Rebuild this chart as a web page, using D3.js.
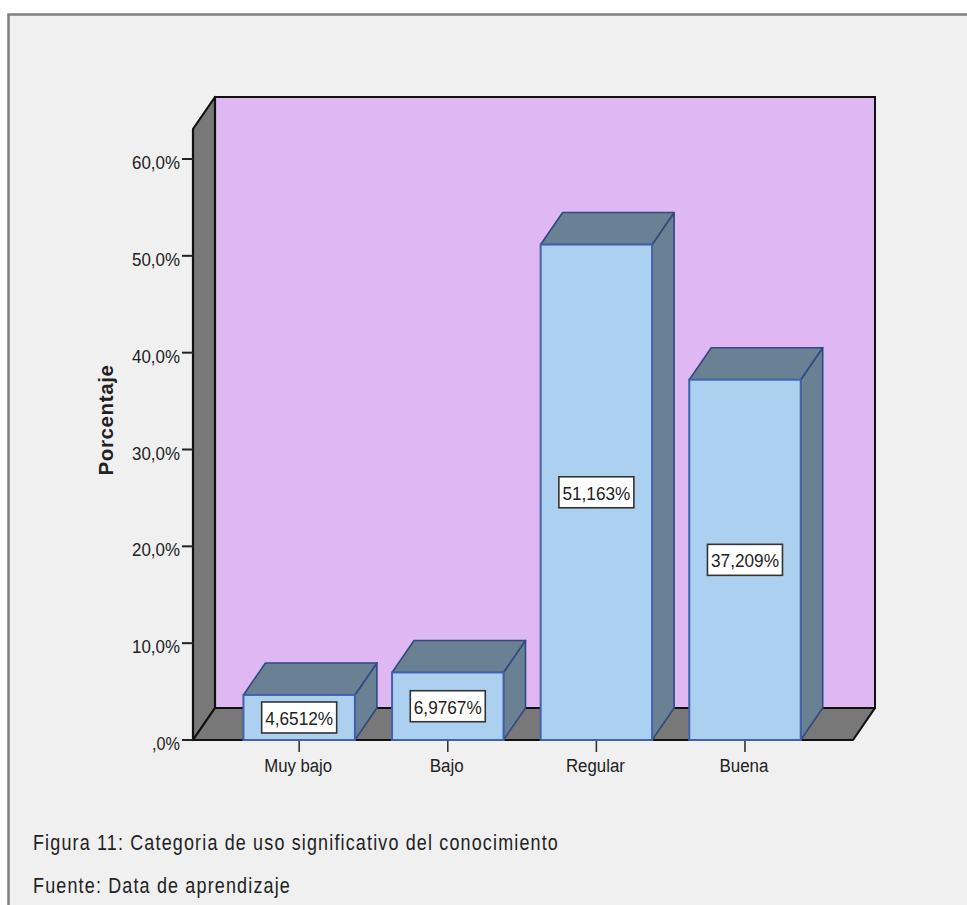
<!DOCTYPE html>
<html>
<head>
<meta charset="utf-8">
<script src="https://cdnjs.cloudflare.com/ajax/libs/d3/7.8.5/d3.min.js"></script>
<style>
html,body{margin:0;padding:0;background:#fff}
svg{display:block}
text{font-family:"Liberation Sans",Arial,sans-serif;fill:#222}
</style>
</head>
<body>
<svg id="chart" width="967" height="905"></svg>
<script>
const categories = ["Muy bajo", "Bajo", "Regular", "Buena"];
const values = [4.6512, 6.9767, 51.163, 37.209];
const valueLabels = ["4,6512%", "6,9767%", "51,163%", "37,209%"];
const tickValues = [0, 10, 20, 30, 40, 50, 60];
const tickLabels = [",0%", "10,0%", "20,0%", "30,0%", "40,0%", "50,0%", "60,0%"];
const yAxisTitle = "Porcentaje";
const captions = ["Figura 11: Categoria de uso significativo del conocimiento", "Fuente: Data de aprendizaje"];

const svg = d3.select("#chart");
const frontLeft = 193, frontRight = 853, baseY = 740, wallTopY = 129;
const depthX = 22, depthY = 32;

const y = d3.scaleLinear().domain([0, 60]).range([baseY, 159]);
const x = d3.scaleBand().domain(categories).range([frontLeft, frontRight])
  .paddingInner(0.25).paddingOuter(0.3457).align(0.491);

const poly = pts => d3.line()(pts) + "Z";

// Chart panel
svg.append("rect").attr("x", 8.5).attr("y", 14.5).attr("width", 975).attr("height", 910)
  .attr("fill", "#f0f0f0").attr("stroke", "#7f7f7f").attr("stroke-width", 2.5);

// Back wall, left wall and floor of the 3D box
const wallStroke = "#111";
svg.append("rect")
  .attr("x", frontLeft + depthX).attr("y", wallTopY - depthY)
  .attr("width", frontRight - frontLeft).attr("height", baseY - wallTopY)
  .attr("fill", "#dfb8f3").attr("stroke", wallStroke).attr("stroke-width", 2);
svg.append("path")
  .attr("d", poly([[frontLeft, baseY], [frontLeft, wallTopY], [frontLeft + depthX, wallTopY - depthY], [frontLeft + depthX, baseY - depthY]]))
  .attr("fill", "#787878").attr("stroke", wallStroke).attr("stroke-width", 2.2).attr("stroke-linejoin", "round");
svg.append("path")
  .attr("d", poly([[frontLeft, baseY], [frontRight, baseY], [frontRight + depthX, baseY - depthY], [frontLeft + depthX, baseY - depthY]]))
  .attr("fill", "#787878").attr("stroke", wallStroke).attr("stroke-width", 2.2).attr("stroke-linejoin", "round");

// Value axis ticks and labels
const yAxis = svg.append("g");
yAxis.selectAll("line").data(tickValues).join("line")
  .attr("x1", frontLeft - 11).attr("x2", frontLeft)
  .attr("y1", d => y(d)).attr("y2", d => y(d))
  .attr("stroke", "#222").attr("stroke-width", 2);
yAxis.selectAll("text").data(tickValues).join("text")
  .attr("x", frontLeft - 13).attr("y", d => y(d) + 10)
  .attr("text-anchor", "end").attr("font-size", 19)
  .attr("textLength", (d, i) => tickLabels[i].length > 3 ? 48 : 28)
  .attr("lengthAdjust", "spacingAndGlyphs")
  .text((d, i) => tickLabels[i]);

svg.append("text")
  .attr("transform", "translate(113,420) rotate(-90)")
  .attr("text-anchor", "middle").attr("font-size", 21).attr("font-weight", "bold")
  .attr("letter-spacing", 0.6).attr("fill", "#000")
  .attr("textLength", 111).attr("lengthAdjust", "spacingAndGlyphs")
  .text(yAxisTitle);

// Category ticks and labels
const xAxis = svg.append("g");
xAxis.selectAll("line").data(categories).join("line")
  .attr("x1", d => x(d) + x.bandwidth() / 2).attr("x2", d => x(d) + x.bandwidth() / 2)
  .attr("y1", baseY).attr("y2", baseY + 12)
  .attr("stroke", "#333").attr("stroke-width", 1.6);
xAxis.selectAll("text").data(categories).join("text")
  .attr("x", d => x(d) + x.bandwidth() / 2 - 1).attr("y", baseY + 32)
  .attr("text-anchor", "middle").attr("font-size", 18)
  .attr("textLength", d => ({ "Muy bajo": 68, "Bajo": 34, "Regular": 59, "Buena": 49 })[d])
  .attr("lengthAdjust", "spacingAndGlyphs")
  .text(d => d);

// Bars: side, top, then front face, drawn left to right
const bars = svg.append("g").selectAll("g").data(values).join("g");
const barLeft = (d, i) => x(categories[i]);
const barRight = (d, i) => x(categories[i]) + x.bandwidth();

bars.append("path")
  .attr("d", (d, i) => poly([[barRight(d, i), baseY], [barRight(d, i), y(d)], [barRight(d, i) + depthX, y(d) - depthY], [barRight(d, i) + depthX, baseY - depthY]]))
  .attr("fill", "#6a8093").attr("stroke", "#2f4a80").attr("stroke-width", 1.6).attr("stroke-linejoin", "round");
bars.append("path")
  .attr("d", (d, i) => poly([[barLeft(d, i), y(d)], [barRight(d, i), y(d)], [barRight(d, i) + depthX, y(d) - depthY], [barLeft(d, i) + depthX, y(d) - depthY]]))
  .attr("fill", "#6a8093").attr("stroke", "#2f4a80").attr("stroke-width", 1.6).attr("stroke-linejoin", "round");
bars.append("rect")
  .attr("x", barLeft).attr("y", d => y(d))
  .attr("width", x.bandwidth()).attr("height", d => baseY - y(d))
  .attr("fill", "#acd0ef").attr("stroke", "#4262ab").attr("stroke-width", 2);

// Value boxes centred on each front face
const labelW = 75, labelH = 31;
const labels = bars.append("g")
  .attr("transform", (d, i) => `translate(${x(categories[i]) + x.bandwidth() / 2},${(y(d) + baseY) / 2})`);
labels.append("rect")
  .attr("x", -labelW / 2).attr("y", -labelH / 2)
  .attr("width", labelW).attr("height", labelH)
  .attr("fill", "#fff").attr("stroke", "#333").attr("stroke-width", 1.6);
labels.append("text")
  .attr("y", 7.5)
  .attr("text-anchor", "middle").attr("font-size", 18.5)
  .attr("textLength", 68).attr("lengthAdjust", "spacingAndGlyphs")
  .text((d, i) => valueLabels[i]);

// Caption lines under the chart
svg.append("g").selectAll("text").data(captions).join("text")
  .attr("x", 33).attr("y", (d, i) => 850 + i * 43)
  .attr("font-size", 21.5).attr("letter-spacing", 1.4)
  .attr("textLength", (d, i) => i === 0 ? 526 : 258).attr("lengthAdjust", "spacingAndGlyphs")
  .text(d => d);
</script>
</body>
</html>
